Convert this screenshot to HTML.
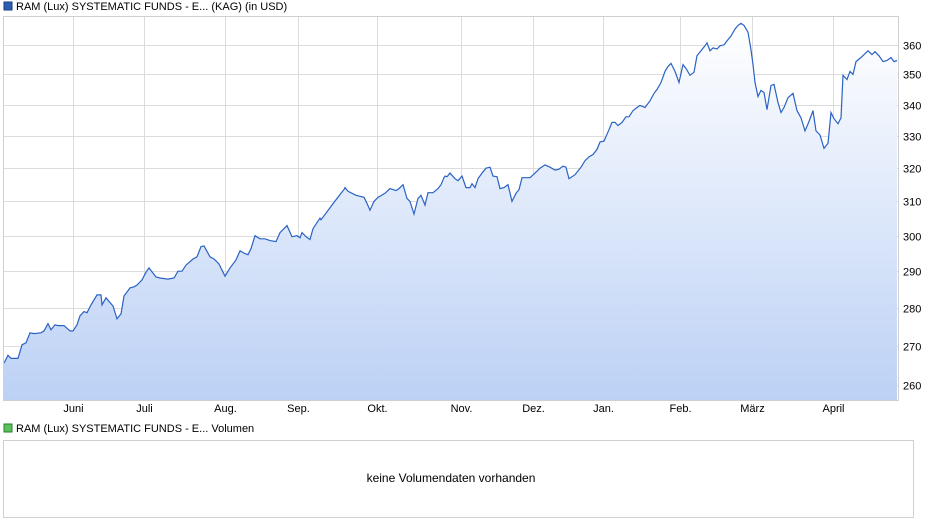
<!DOCTYPE html>
<html><head><meta charset="utf-8"><style>
body{margin:0;background:#fff;width:940px;height:526px;overflow:hidden;font-family:"Liberation Sans",Arial,sans-serif}
svg{position:absolute;left:0;top:0}
</style></head><body>
<svg width="940" height="526" id="chart">
<defs><linearGradient id="fg" x1="0" y1="0" x2="0" y2="1"><stop offset="0" stop-color="#ffffff"/><stop offset="1" stop-color="#bcd1f5"/></linearGradient></defs>
<rect x="4" y="2" width="8" height="8" fill="#2a5db0" stroke="#1a3d80"/>
<text x="16" y="10" font-size="11" fill="#000">RAM (Lux) SYSTEMATIC FUNDS - E... (KAG) (in USD)</text>
<g id="grid"></g>
<path id="area" fill="url(#fg)"/>
<path id="line" fill="none" stroke="#2a62c4" stroke-width="1.2"/>
<rect x="3.5" y="16.5" width="895" height="384" fill="none" stroke="#d0d0d0"/>
<g id="ticks"></g>
<rect x="4" y="424" width="8" height="8" fill="#5cc05c" stroke="#2a802a"/>
<text x="16" y="432" font-size="11" fill="#000">RAM (Lux) SYSTEMATIC FUNDS - E... Volumen</text>
<rect x="3.5" y="440.5" width="910" height="77" fill="#fff" stroke="#d0d0d0"/>
<text x="451" y="482" font-size="12" text-anchor="middle" fill="#000">keine Volumendaten vorhanden</text>
</svg>
<script>
const days=[0,1.6,2.8,5.6,7.2,8.8,10.4,12,14.8,16,17.6,18.8,20.4,21.6,24,26.4,27.6,29.2,30.4,32,33.2,34.8,37.2,38.8,39.2,40.8,43.6,45.2,46.8,48,50.4,52,53.2,55.2,56.8,58,60.8,62.4,65.6,68,69.6,71.2,72.8,75.6,77.2,78.8,80,82.4,84,86,88.4,90.4,92.8,94.4,96.4,97.6,98.8,100.4,102.4,104.4,106.4,108.8,110.4,113.2,115.2,117.2,118.4,119.2,120.8,122.4,123.6,126.4,
126.8,132,134.8,136,136.4,137.6,140.8,142.4,144,145.2,146.4,148,149.6,152.4,154.4,156.8,158,159.6,161.2,162.4,164,165.6,166.8,168.4,169.6,171.6,173.6,174.8,176,176.4,177.2,178.4,180.4,181.6,183.2,184.8,186.4,187.2,188.4,189.6,191.2,192.8,194.4,195.6,197.2,198.4,200,201.6,203.2,204.8,206,207.2,208.4,210.4,212,214.4,216.4,218.4,220.4,222,223.6,224.8,226,228.4,230.8,232.4,234,235.6,237.2,238.4,
240,242,243.2,244.4,245.6,247.2,248.8,250,251.6,253.2,254.4,256.4,258.4,260,261.2,262.8,264.4,265.6,266.8,268.4,270,271.6,272.8,274.4,276,277.2,278.8,280.4,281.2,282.4,283.6,285.2,286.4,288,289.2,290.8,292.4,293.6,294.8,296,297.6,298.8,299.6,300.4,301.6,302.8,304,305.2,306.8,308,309.6,310.8,312,313.6,315.6,317.2,318.8,320.4,322,323.6,324.8,326.4,328,329.6,330.8,332,333.6,334.8,335.6,337.2,338.4,339.6,340.8,342.8,345.2,345.6,347.2,348.4,350,351.6,353.2,354.8,356,357.2];
const values=[265.6,267.6,266.8,266.8,270.3,270.8,273.4,273.2,273.4,273.9,275.8,274.2,275.5,275.3,275.3,273.9,273.9,275.5,277.9,279.0,278.7,280.8,283.5,283.5,280.8,282.7,280.5,277.1,278.4,283.2,285.4,285.7,286.2,287.6,289.7,290.9,288.4,288.1,287.8,288.1,290,290,291.7,293.4,294,296.9,297.1,294,293.4,292,288.6,290.9,293.1,295.7,294.9,294.6,296.3,300,299.1,299.1,298.6,298.3,300.9,302.9,299.7,300,299.4,300.9,299.7,298.9,302,305.1,304.6,309.7,312.4,313.5,314.1,313,311.8,311.5,311.2,309.4,307.4,310,311.2,312.4,313.8,313.2,313.8,315,310.9,310,306.3,310.9,311.8,308.9,312.6,312.6,313.8,315,317.1,317.6,317.4,318.5,316.8,316.2,317.6,314.1,314.1,315.3,314.1,316.8,318.5,320,320.3,317.6,317.4,313.8,314.1,315,310,312.4,313.5,317.1,317.1,317.1,318.2,320,321,320.3,319.4,319.7,320.6,320.3,316.8,318,320.3,322.3,323.5,324.2,325.8,328.1,328.4,332,334.3,334.3,333.3,334.3,336.1,336.1,338.1,339.1,339.8,339.1,341.3,343.7,345,347.3,351,352.7,353.7,351,347.3,353.3,352,349.7,350.7,356.3,358,359.7,360.7,358,359,358.6,359.7,360,361.4,363.1,365.5,366.8,367.5,366.8,364.4,358.3,353.3,347.3,342.7,344.7,344,338.4,346.3,346.7,340.7,337.5,339.1,342.3,343.7,338.1,335.8,331.6,334.6,338.1,331.6,330.3,326.1,327.7,337.5,335.5,333.9,335.8,349.7,348.3,351,350,354.3,355.7,357.7,358,356.7,357.7,356.3,354.3,354.7,355.7,354.3,354.7];
const yTicks=[260,270,280,290,300,310,320,330,340,350,360];
const months=["Juni","Juli","Aug.","Sep.","Okt.","Nov.","Dez.","Jan.","Feb.","März","April"];
const monthDays=[27.6,56,88.4,117.6,149.2,182.8,211.6,239.6,270.4,299.2,331.6];
const X0=4,X1=897,Y0=16,Y1=400,VMIN=256.4,VMAX=370.1,DMIN=0,DMAX=357.2;
function xs(d){return X0+(X1-X0)*(d-DMIN)/(DMAX-DMIN);}
function ys(v){return Y1-(Y1-Y0)*(Math.log(v)-Math.log(VMIN))/(Math.log(VMAX)-Math.log(VMIN));}
const NS="http://www.w3.org/2000/svg";
const grid=document.getElementById('grid'),ticks=document.getElementById('ticks');
yTicks.forEach(t=>{const y=Math.round(ys(t))+0.5;
 const l=document.createElementNS(NS,'line');l.setAttribute('x1',3);l.setAttribute('x2',898);l.setAttribute('y1',y);l.setAttribute('y2',y);l.setAttribute('stroke','#dcdcdc');
 
 
 grid.appendChild(l);
 const tx=document.createElementNS(NS,'text');tx.setAttribute('x',903);tx.setAttribute('y',y+4);tx.setAttribute('font-size','11');tx.textContent=t;
 
 
 ticks.appendChild(tx);});
months.forEach((m,i)=>{const x=Math.round(xs(monthDays[i]))+0.5;
 const l=document.createElementNS(NS,'line');l.setAttribute('x1',x);l.setAttribute('x2',x);l.setAttribute('y1',16);l.setAttribute('y2',400);l.setAttribute('stroke','#dcdcdc');
 
 
 grid.appendChild(l);
 const tx=document.createElementNS(NS,'text');tx.setAttribute('x',x);tx.setAttribute('y',412);tx.setAttribute('font-size','11');tx.setAttribute('text-anchor','middle');tx.textContent=m;
 
 
 ticks.appendChild(tx);});
let d='';values.forEach((v,i)=>{d+=(i?'L':'M')+xs(days[i]).toFixed(1)+','+ys(v).toFixed(1);});
document.getElementById('line').setAttribute('d',d);
document.getElementById('area').setAttribute('d',d+'L'+xs(days[days.length-1]).toFixed(1)+','+Y1+'L'+xs(days[0]).toFixed(1)+','+Y1+'Z');
</script>
</body></html>
